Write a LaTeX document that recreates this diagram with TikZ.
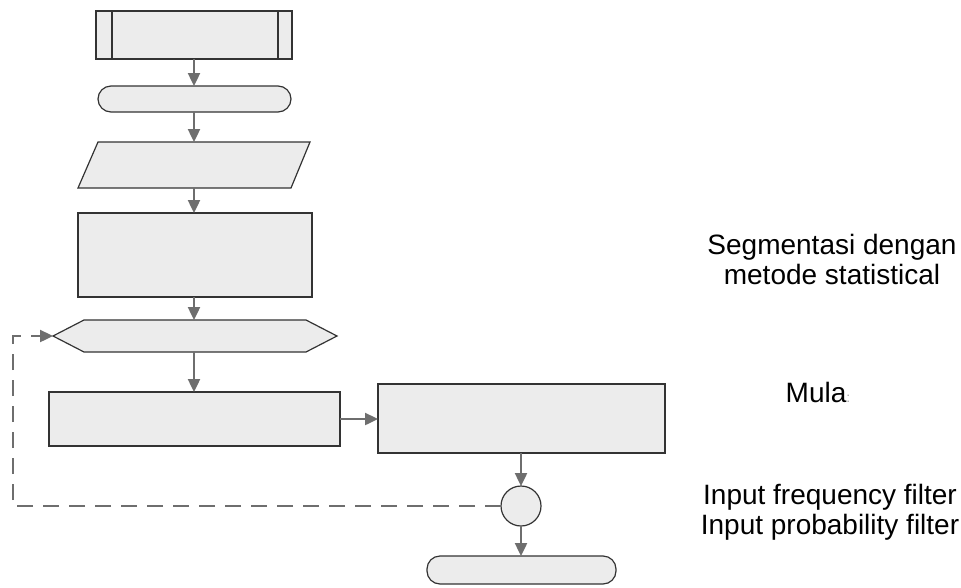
\documentclass[tikz,border=0pt]{standalone}
\usepackage{fontspec}
\setmainfont{Liberation Sans}
\usetikzlibrary{arrows.meta}
\definecolor{nodefill}{HTML}{ECECEC}
\definecolor{edgegray}{HTML}{6E6E6E}
\definecolor{bordergray}{HTML}{333333}
\tikzset{
  shapebox/.style={draw=bordergray, fill=nodefill, line width=1.2pt},
  flow/.style={draw=edgegray, line width=2.4pt, -{Triangle[length=13pt,width=12pt]}},
  loopline/.style={draw=edgegray, line width=2.4pt, dash pattern=on 16pt off 10pt},
  label/.style={font=\fontsize{28}{30}\selectfont, align=center, text=black}
}
\begin{document}
\begin{tikzpicture}[x=1pt,y=-1pt]
\useasboundingbox (0,0) rectangle (961,587);
% predefined process
\draw[shapebox] (96,11) rectangle (292,59);
\draw[bordergray, line width=1.2pt] (112,11) -- (112,59) (278,11) -- (278,59);
\coordinate (ppb) at (194,59);
% terminator 1
\draw[shapebox, rounded corners=13pt] (98,86) rectangle (291,112);
\coordinate (t1t) at (194,86);
\coordinate (t1b) at (194,112);
% parallelogram
\draw[shapebox] (98,142) -- (310,142) -- (291,188) -- (78,188) -- cycle;
\coordinate (pat) at (194,142);
\coordinate (pab) at (194,188);
% rectangle 1
\draw[shapebox] (78,213) rectangle (312,297);
\coordinate (r1t) at (194,213);
\coordinate (r1b) at (194,297);
% hexagon
\draw[shapebox] (53,336) -- (84,320) -- (306,320) -- (337,336) -- (306,352) -- (84,352) -- cycle;
\coordinate (hxt) at (194,320);
\coordinate (hxb) at (194,352);
\coordinate (hxl) at (53,336);
% rectangle 2
\draw[shapebox] (49,392) rectangle (340,446);
\coordinate (r2t) at (194,392);
\coordinate (r2r) at (340,419);
% rectangle 3
\draw[shapebox] (378,384) rectangle (665,453);
\coordinate (r3l) at (378,419);
\coordinate (r3b) at (521,453);
% connector circle
\draw[shapebox] (521,506) circle (20);
\coordinate (cct) at (521,486);
\coordinate (ccb) at (521,526);
\coordinate (ccl) at (501,506);
% terminator 2
\draw[shapebox, rounded corners=13pt] (427,556) rectangle (616,584);
\coordinate (t2t) at (521,556);
% arrows
\draw[flow] (ppb) -- (t1t);
\draw[flow] (t1b) -- (pat);
\draw[flow] (pab) -- (r1t);
\draw[flow] (r1b) -- (hxt);
\draw[flow] (hxb) -- (r2t);
\draw[flow] (r2r) -- (r3l);
\draw[flow] (r3b) -- (cct);
\draw[flow] (ccb) -- (t2t);
\coordinate (bend1) at (13,506);
\coordinate (bend2) at (13,336);
\coordinate (dashend) at (38,336);
\draw[loopline] (ccl) -- (bend1) -- (bend2) -- (dashend);
\draw[flow] (dashend) -- (hxl);
% labels
\node[label] (seg) at (832,259) {Segmentasi dengan\\metode statistical};
\node[label] (mul) at (818,392) {Mula\textcolor{black!35}{\fontsize{14}{14}\selectfont:}};
\node[label] (inp) at (830,512) {Input frequency filter\\Input probability filter};
\end{tikzpicture}
\end{document}
